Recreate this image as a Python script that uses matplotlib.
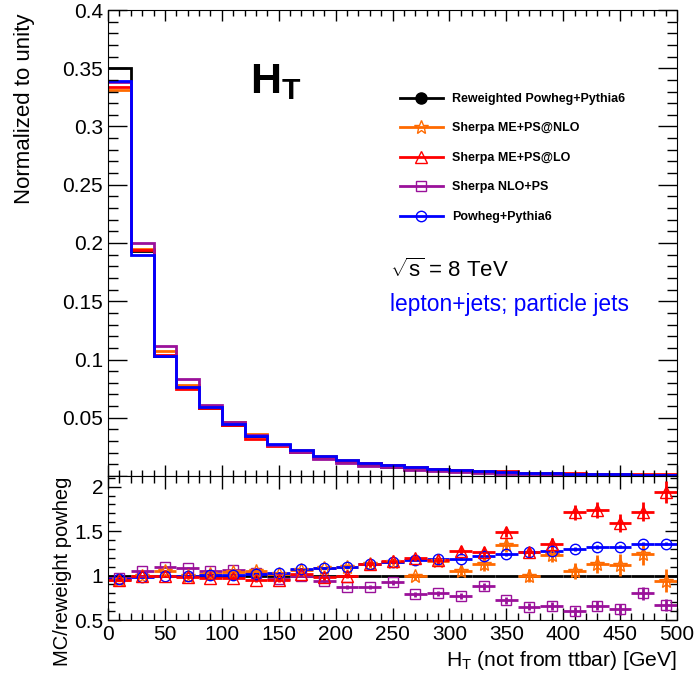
import numpy as np
import matplotlib
matplotlib.use("Agg")
import matplotlib.pyplot as plt
from matplotlib.lines import Line2D
from matplotlib.ticker import MultipleLocator, FuncFormatter

plt.rcParams['font.family'] = ['Liberation Sans', 'DejaVu Sans']
plt.rcParams['mathtext.fontset'] = 'custom'
plt.rcParams['mathtext.rm'] = 'Liberation Sans'
plt.rcParams['mathtext.it'] = 'Liberation Sans:italic'
plt.rcParams['mathtext.bf'] = 'Liberation Sans:bold'

# H_T bins, 20 GeV wide
edges = np.arange(0, 520, 20)
centers = (edges[:-1] + edges[1:]) / 2

# normalized distributions (top panel)
h_rew = [0.350, 0.193, 0.103, 0.076, 0.058, 0.044, 0.034, 0.027, 0.021, 0.016,
         0.0128, 0.0100, 0.0080, 0.0064, 0.0051, 0.0041, 0.0033, 0.0027, 0.0022, 0.0018,
         0.0015, 0.0012, 0.0010, 0.0008, 0.0007]
h_nlo = [0.331, 0.195, 0.107, 0.078, 0.059, 0.046, 0.036, 0.027, 0.022, 0.017,
         0.014, 0.011, 0.0092, 0.0063, 0.0059, 0.0043, 0.0037, 0.0036, 0.0022, 0.0022,
         0.0016, 0.0014, 0.0011, 0.0010, 0.0007]
h_lo = [0.334, 0.194, 0.104, 0.075, 0.058, 0.044, 0.032, 0.026, 0.021, 0.0157,
        0.0128, 0.0113, 0.0093, 0.0077, 0.0060, 0.0052, 0.0042, 0.0040, 0.0028, 0.0024,
        0.0026, 0.0021, 0.0016, 0.0014, 0.0014]
h_nlops = [0.338, 0.200, 0.112, 0.083, 0.061, 0.046, 0.035, 0.0265, 0.0205, 0.015,
           0.0111, 0.0087, 0.0074, 0.0051, 0.0041, 0.0032, 0.0029, 0.0019, 0.0014, 0.0012,
           0.0009, 0.0008, 0.0006, 0.0006, 0.0005]
h_pow = [0.339, 0.190, 0.103, 0.076, 0.059, 0.0445, 0.0347, 0.0278, 0.0223, 0.0174,
         0.0141, 0.0113, 0.0092, 0.0075, 0.0060, 0.0049, 0.0040, 0.0033, 0.0028, 0.0023,
         0.0020, 0.0016, 0.0013, 0.0011, 0.0010]

# ratios to reweighted Powheg (bottom panel)
r_rew = [1.0] * 25
r_nlo = [0.95, 1.00, 1.05, 1.00, 1.02, 1.04, 1.05, 1.02, 1.06, 1.08,
         1.10, 1.13, 1.155, 0.99, 1.16, 1.05, 1.13, 1.34, 1.00, 1.23,
         1.05, 1.13, 1.12, 1.24, 0.94]
e_nlo = [0.01, 0.01, 0.01, 0.01, 0.01, 0.015, 0.02, 0.02, 0.02, 0.02,
         0.025, 0.03, 0.03, 0.035, 0.04, 0.06, 0.08, 0.07, 0.07, 0.08,
         0.09, 0.10, 0.12, 0.12, 0.13]
r_lo = [0.95, 1.00, 0.99, 0.98, 0.97, 0.97, 0.95, 0.95, 1.02, 0.98,
        1.00, 1.13, 1.16, 1.20, 1.17, 1.28, 1.27, 1.49, 1.26, 1.35,
        1.71, 1.74, 1.59, 1.72, 1.94]
e_lo = [0.01, 0.01, 0.01, 0.01, 0.015, 0.02, 0.02, 0.02, 0.02, 0.025,
        0.03, 0.03, 0.035, 0.04, 0.04, 0.05, 0.05, 0.06, 0.06, 0.07,
        0.08, 0.09, 0.10, 0.11, 0.12]
r_nlops = [0.97, 1.05, 1.10, 1.09, 1.05, 1.06, 1.03, 0.96, 1.00, 0.94,
           0.87, 0.87, 0.925, 0.79, 0.80, 0.77, 0.88, 0.72, 0.65, 0.66,
           0.60, 0.66, 0.62, 0.80, 0.67]
e_nlops = [0.01, 0.01, 0.01, 0.01, 0.01, 0.015, 0.015, 0.02, 0.02, 0.02,
           0.02, 0.025, 0.03, 0.03, 0.03, 0.035, 0.04, 0.04, 0.04, 0.045,
           0.05, 0.05, 0.06, 0.07, 0.07]
r_pow = [0.96, 0.98, 1.00, 1.00, 1.01, 1.01, 1.02, 1.03, 1.07, 1.09,
         1.10, 1.13, 1.155, 1.17, 1.185, 1.19, 1.215, 1.24, 1.26, 1.28,
         1.30, 1.32, 1.325, 1.36, 1.36]
e_pow = [0.005, 0.005, 0.005, 0.005, 0.005, 0.005, 0.01, 0.01, 0.01, 0.01,
         0.01, 0.01, 0.01, 0.01, 0.01, 0.015, 0.015, 0.015, 0.015, 0.015,
         0.02, 0.02, 0.02, 0.02, 0.02]

c_rew, c_nlo, c_lo, c_nlops, c_pow = 'black', '#ff6a00', '#ff0000', '#9a119a', '#0000ff'

fig = plt.figure(figsize=(6.98, 6.73), dpi=100)
L, R = 108 / 698, 677 / 698
ax = fig.add_axes([L, 1 - 476 / 673, R - L, 466 / 673])
ax2 = fig.add_axes([L, 1 - 620 / 673, R - L, 144 / 673])

# top panel
for h, c in [(h_rew, c_rew), (h_nlo, c_nlo), (h_lo, c_lo), (h_nlops, c_nlops), (h_pow, c_pow)]:
    ax.stairs(h, edges, color=c, lw=2, baseline=None)
ax.set_xlim(0, 500)
ax.set_ylim(0, 0.4)
ax.yaxis.set_major_locator(MultipleLocator(0.05))
ax.yaxis.set_minor_locator(MultipleLocator(0.01))
ax.yaxis.set_major_formatter(FuncFormatter(lambda v, p: '' if abs(v) < 1e-9 else f'{v:g}'))
ax.xaxis.set_major_locator(MultipleLocator(50))
ax.xaxis.set_minor_locator(MultipleLocator(10))
ax.tick_params(axis='x', labelbottom=False)
ax.tick_params(axis='y', which='major', length=14, width=1)
ax.tick_params(axis='y', which='minor', length=7, width=1)
ax.tick_params(axis='x', which='major', length=8, width=1)
ax.tick_params(axis='x', which='minor', length=4, width=1)
ax.tick_params(which='both', direction='in', top=True, right=True, labelsize=15)

handles = [
    Line2D([], [], color=c_rew, lw=2, marker='o', ms=8),
    Line2D([], [], color=c_nlo, lw=2, marker='*', ms=10, mfc='none', mew=1),
    Line2D([], [], color=c_lo, lw=2, marker='^', ms=8, mfc='none', mew=1),
    Line2D([], [], color=c_nlops, lw=2, marker='s', ms=7, mfc='none', mew=1),
    Line2D([], [], color=c_pow, lw=2, marker='o', ms=7.5, mfc='none', mew=1),
]
labels = ['Reweighted Powheg+Pythia6', 'Sherpa ME+PS@NLO', 'Sherpa ME+PS@LO',
          'Sherpa NLO+PS', 'Powheg+Pythia6']
ax.legend(handles, labels, loc='upper left', bbox_to_anchor=(0.513, 0.822),
          frameon=False, borderpad=0, borderaxespad=0, handlelength=3.45,
          handletextpad=0.7, labelspacing=1.40,
          prop=dict(family='Liberation Sans', weight='bold', size=9))

fig.text(250 / 698, 1 - 93 / 673, r'$\mathbf{H_T}$', fontsize=31, va='baseline')
fig.text(390 / 698, 1 - 270 / 673, r'$\sqrt{\mathrm{s}}$ = 8 TeV', fontsize=16, va='center')
fig.text(390 / 698, 1 - 305 / 673, 'lepton+jets; particle jets', fontsize=16.4,
         va='center', color=c_pow)
fig.text(25 / 698, 1 - 14 / 673, 'Normalized to unity', rotation=90, fontsize=16,
         ha='center', va='top')

# ratio panel
ax2.errorbar(centers, r_rew, xerr=10, fmt='none', ecolor=c_rew, elinewidth=2)
ax2.errorbar(centers, r_nlops, xerr=10, yerr=e_nlops, fmt='s', ms=7, mfc='none',
             mec=c_nlops, ecolor=c_nlops, elinewidth=2, mew=1)
ax2.errorbar(centers, r_nlo, xerr=10, yerr=e_nlo, fmt='*', ms=10, mfc='none',
             mec=c_nlo, ecolor=c_nlo, elinewidth=2, mew=1)
ax2.errorbar(centers, r_pow, xerr=10, yerr=e_pow, fmt='o', ms=7.5, mfc='none',
             mec=c_pow, ecolor=c_pow, elinewidth=2, mew=1)
ax2.errorbar(centers, r_lo, xerr=10, yerr=e_lo, fmt='^', ms=8, mfc='none',
             mec=c_lo, ecolor=c_lo, elinewidth=2, mew=1)
ax2.set_xlim(0, 500)
ax2.set_ylim(0.5, 2.12)
ax2.yaxis.set_major_locator(MultipleLocator(0.5))
ax2.yaxis.set_minor_locator(MultipleLocator(0.1))
ax2.yaxis.set_major_formatter(FuncFormatter(lambda v, p: f'{v:g}'))
ax2.xaxis.set_major_locator(MultipleLocator(50))
ax2.xaxis.set_minor_locator(MultipleLocator(10))
ax2.tick_params(which='major', length=9, width=1)
ax2.tick_params(which='minor', length=5, width=1)
ax2.tick_params(which='both', direction='in', top=True, right=True, labelsize=15)
fig.text(62 / 698, 1 - 477 / 673, 'MC/reweight powheg', rotation=90, fontsize=14.5,
         ha='center', va='top')
fig.text(677 / 698, 1 - 661 / 673, r'H$_\mathrm{T}$ (not from ttbar) [GeV]',
         fontsize=15.2, ha='right', va='center')

fig.savefig('out.png', dpi=100)
